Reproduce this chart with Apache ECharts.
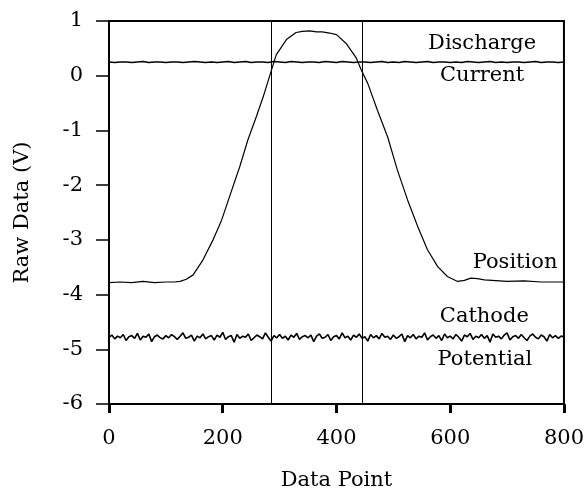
<!DOCTYPE html>
<html>
<head>
<meta charset="utf-8">
<script src="https://cdn.jsdelivr.net/npm/echarts@6/dist/echarts.min.js"></script>
<style>
html,body{margin:0;padding:0;background:#fff;}
#c{width:587px;height:498px;}
</style>
</head>
<body>
<div id="c"></div>
<script>
// ---- data ----
var xTicks = [0, 200, 400, 600, 800];
var yTicks = [-6, -5, -4, -3, -2, -1, 0, 1];

// Position signal (data point, volts)
var posX = [0, 20, 40, 60, 80, 100, 115, 125, 136, 148, 165, 183, 198, 212, 230, 244, 259, 271, 282, 294, 312, 329, 340, 353, 365, 375, 388, 400, 417, 435, 443, 455, 472, 490, 507, 525, 543, 560, 578, 595, 613, 625, 636, 648, 660, 700, 730, 760, 800];
var posY = [-3.78, -3.77, -3.78, -3.76, -3.78, -3.77, -3.77, -3.76, -3.72, -3.64, -3.37, -3.00, -2.64, -2.21, -1.66, -1.18, -0.75, -0.39, -0.02, 0.38, 0.66, 0.79, 0.81, 0.82, 0.80, 0.80, 0.78, 0.75, 0.59, 0.32, 0.12, -0.14, -0.63, -1.12, -1.72, -2.27, -2.76, -3.18, -3.49, -3.67, -3.76, -3.74, -3.70, -3.71, -3.73, -3.76, -3.75, -3.77, -3.77];

// Discharge current, sampled every 10 data points
var dischargeStep = 10;
var discharge = [0.25,0.24,0.25,0.25,0.24,0.25,0.26,0.24,0.25,0.25,
0.24,0.25,0.25,0.24,0.25,0.26,0.25,0.24,0.25,0.24,
0.25,0.26,0.24,0.25,0.26,0.24,0.25,0.25,0.24,0.26,
0.25,0.24,0.26,0.25,0.24,0.25,0.25,0.24,0.26,0.25,
0.24,0.26,0.25,0.24,0.25,0.25,0.24,0.25,0.26,0.24,
0.25,0.24,0.26,0.25,0.24,0.25,0.26,0.24,0.25,0.25,
0.24,0.25,0.24,0.26,0.25,0.24,0.25,0.26,0.24,0.25,
0.24,0.25,0.25,0.24,0.25,0.26,0.24,0.25,0.25,0.24,
0.25];

// Cathode potential, sampled every 5 data points
var cathodeStep = 5;
var cathode = [-4.78,-4.74,-4.81,-4.76,-4.79,-4.73,-4.84,-4.77,-4.75,-4.80,
-4.71,-4.83,-4.76,-4.78,-4.72,-4.86,-4.77,-4.74,-4.79,-4.81,
-4.75,-4.79,-4.73,-4.77,-4.82,-4.76,-4.70,-4.80,-4.78,-4.74,
-4.85,-4.76,-4.79,-4.72,-4.81,-4.77,-4.75,-4.83,-4.74,-4.78,
-4.69,-4.82,-4.77,-4.75,-4.87,-4.73,-4.80,-4.76,-4.78,-4.72,
-4.84,-4.79,-4.74,-4.77,-4.81,-4.70,-4.78,-4.85,-4.75,-4.79,
-4.73,-4.80,-4.76,-4.83,-4.74,-4.78,-4.71,-4.82,-4.77,-4.75,
-4.79,-4.74,-4.86,-4.76,-4.72,-4.80,-4.78,-4.73,-4.84,-4.77,
-4.75,-4.81,-4.70,-4.79,-4.76,-4.83,-4.74,-4.78,-4.72,-4.80,
-4.77,-4.85,-4.73,-4.79,-4.75,-4.81,-4.71,-4.78,-4.76,-4.82,
-4.74,-4.80,-4.77,-4.72,-4.86,-4.75,-4.79,-4.73,-4.81,-4.76,
-4.78,-4.70,-4.83,-4.77,-4.74,-4.80,-4.75,-4.84,-4.72,-4.79,
-4.76,-4.81,-4.73,-4.78,-4.85,-4.74,-4.77,-4.71,-4.82,-4.76,
-4.79,-4.73,-4.80,-4.75,-4.87,-4.72,-4.78,-4.76,-4.81,-4.74,
-4.70,-4.83,-4.77,-4.75,-4.80,-4.73,-4.79,-4.84,-4.76,-4.72,
-4.78,-4.81,-4.74,-4.77,-4.85,-4.73,-4.79,-4.75,-4.80,-4.76,
-4.77];

// vertical marker lines (data point)
var markers = [286, 446];

// annotation texts anchored in data coordinates
var annTexts = ['Discharge', 'Current', 'Position', 'Cathode', 'Potential'];
var annX = [656, 656, 714, 660, 661];
var annY = [0.59, 0.0, -3.42, -4.41, -5.19];

var xTitle = 'Data Point';
var yTitle = 'Raw Data (V)';

// ---- build ----
var FONT = 'DejaVu Serif';
var FS = 21;
function pairs(xs, ys) { return xs.map(function (x, i) { return [x, ys[i]]; }); }
function stepped(vals, step) { return vals.map(function (v, i) { return [i * step, v]; }); }

var chart = echarts.init(document.getElementById('c'), null, {renderer: 'canvas'});
var lineBase = {type: 'line', showSymbol: false, symbol: 'none', silent: true, animation: false};

chart.setOption({
  backgroundColor: '#fff',
  animation: false,
  grid: {left: 109, right: 22, top: 21, bottom: 94, show: true, borderColor: '#000', borderWidth: 2, backgroundColor: 'transparent'},
  xAxis: {
    type: 'value', min: 0, max: 800, interval: 200,
    name: xTitle, nameLocation: 'middle', nameGap: 66,
    nameTextStyle: {fontFamily: FONT, fontSize: FS, color: '#000'},
    axisLine: {show: true, onZero: false, lineStyle: {color: '#000', width: 2}},
    axisTick: {show: true, inside: false, length: 9, lineStyle: {color: '#000', width: 3}},
    axisLabel: {margin: 24, fontFamily: FONT, fontSize: FS, color: '#000',
      formatter: function (v) { return xTicks.indexOf(v) >= 0 ? String(v) : ''; }},
    splitLine: {show: false}
  },
  yAxis: {
    type: 'value', min: -6, max: 1, interval: 1,
    name: yTitle, nameLocation: 'middle', nameGap: 76, nameRotate: 90,
    nameTextStyle: {fontFamily: FONT, fontSize: FS, color: '#000'},
    axisLine: {show: true, onZero: false, lineStyle: {color: '#000', width: 2}},
    axisTick: {show: true, inside: false, length: 13, lineStyle: {color: '#000', width: 1.5}},
    axisLabel: {margin: 26, fontFamily: FONT, fontSize: FS, color: '#000',
      formatter: function (v) { return yTicks.indexOf(v) >= 0 ? String(v) : ''; }},
    splitLine: {show: false}
  },
  series: [
    Object.assign({}, lineBase, {
      name: 'Position', data: pairs(posX, posY),
      lineStyle: {color: '#000', width: 1.2},
      markLine: {silent: true, symbol: 'none', animation: false, label: {show: false},
        lineStyle: {color: '#000', width: 1, type: 'solid'},
        data: markers.map(function (m) { return {xAxis: m}; })}
    }),
    Object.assign({}, lineBase, {
      name: 'Discharge Current', data: stepped(discharge, dischargeStep),
      lineStyle: {color: '#000', width: 1.5}
    }),
    Object.assign({}, lineBase, {
      name: 'Cathode Potential', data: stepped(cathode, cathodeStep),
      lineStyle: {color: '#000', width: 1.6}
    })
  ]
});

var gfx = annTexts.map(function (t, i) {
  var p = chart.convertToPixel({gridIndex: 0}, [annX[i], annY[i]]);
  return {type: 'text', x: p[0], y: p[1], silent: true,
    style: {text: t, fill: '#000', font: FS + 'px "' + FONT + '"', textAlign: 'center', textVerticalAlign: 'middle'}};
});
chart.setOption({graphic: gfx});
</script>
</body>
</html>
